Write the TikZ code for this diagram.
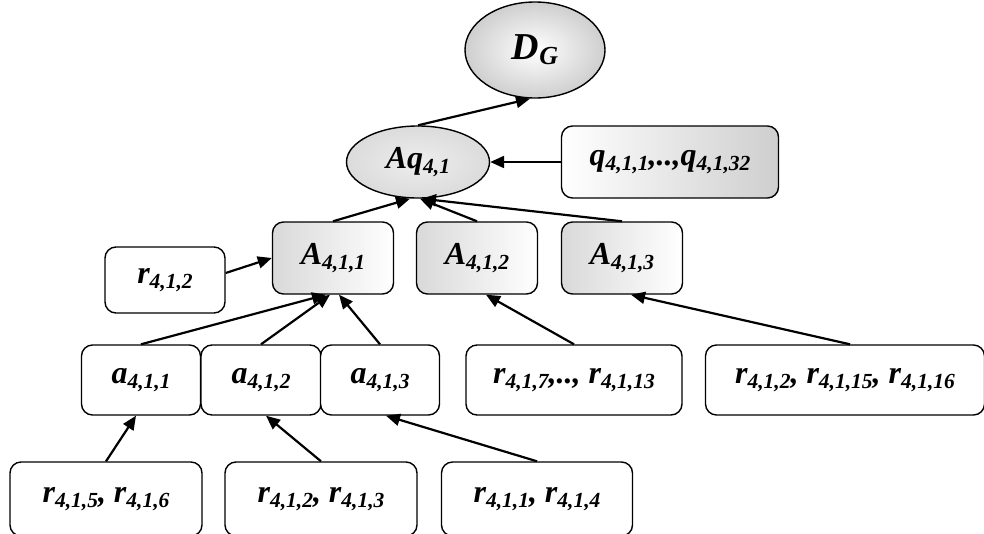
\documentclass[tikz,border=0pt]{standalone}
\usepackage{fontspec}
\setmainfont{Liberation Serif}
\usetikzlibrary{shapes.geometric,arrows.meta}
\newcommand\sbs[1]{\raisebox{-0.3ex}{\fontsize{21.5}{22}\selectfont #1}}
\tikzset{
  lbl/.style={font=\fontsize{32}{34}\selectfont\bfseries\itshape, inner sep=0pt},
  rbox/.style={lbl, draw, line width=1.4pt, rounded corners=11pt, fill=white},
  gbox/.style={rbox, left color=gray!30, right color=white},
  qbox/.style={rbox, left color=white, right color=gray!38},
  ell/.style={lbl, ellipse, draw, line width=1.4pt},
  arr/.style={line width=2.2pt, -{Triangle[length=14pt,width=12pt]}},
}
\begin{document}
\begin{tikzpicture}[x=1pt,y=-1pt]
\useasboundingbox (0,0) rectangle (984,533);
% top
\node[ell, minimum width=140, minimum height=96, inner color=white, outer color=gray!38, font=\fontsize{38}{40}\selectfont\bfseries\itshape] (DG) at (535,50) {D\raisebox{-0.3ex}{\fontsize{26}{26}\selectfont G}};
\node[ell, minimum width=143, minimum height=72, inner color=gray!14, outer color=gray!28] (Aq) at (418,162) {Aq\sbs{4,1}};
\node[qbox, minimum width=217, minimum height=72] (q) at (670,162) {q\sbs{4,1,1},..,q\sbs{4,1,32}};
% A row
\node[gbox, minimum width=121, minimum height=72] (A1) at (333,258) {A\sbs{4,1,1}};
\node[gbox, minimum width=121, minimum height=72] (A2) at (477,258) {A\sbs{4,1,2}};
\node[gbox, minimum width=121, minimum height=72] (A3) at (622,258) {A\sbs{4,1,3}};
\node[rbox, minimum width=120, minimum height=66] (rl) at (165,280) {r\sbs{4,1,2}};
% a row
\node[rbox, minimum width=119, minimum height=70] (a1) at (141,380) {a\sbs{4,1,1}};
\node[rbox, minimum width=120, minimum height=70] (a2) at (261,380) {a\sbs{4,1,2}};
\node[rbox, minimum width=119, minimum height=70] (a3) at (380,380) {a\sbs{4,1,3}};
\node[rbox, minimum width=216, minimum height=70] (r7) at (574,380) {r\sbs{4,1,7},.., r\sbs{4,1,13}};
\node[rbox, minimum width=279, minimum height=70] (r15) at (845,380) {r\sbs{4,1,2}, r\sbs{4,1,15}, r\sbs{4,1,16}};
% bottom row
\node[rbox, minimum width=192, minimum height=74] (b1) at (106,499) {r\sbs{4,1,5}, r\sbs{4,1,6}};
\node[rbox, minimum width=192, minimum height=74] (b2) at (321,499) {r\sbs{4,1,2}, r\sbs{4,1,3}};
\node[rbox, minimum width=191, minimum height=74] (b3) at (537,499) {r\sbs{4,1,1}, r\sbs{4,1,4}};
% arrows
\draw[arr] (Aq.north) -- ([xshift=-5]DG.south);
\draw[arr] (q.west) -- (Aq.east);
\draw[arr] (A1.north) -- ([xshift=-8]Aq.south);
\draw[arr] (A2.north) -- ([xshift=2]Aq.south);
\draw[arr] (A3.north) -- ([xshift=4]Aq.south);
\draw[arr] ([yshift=7]rl.east) -- (A1.west);
\draw[arr] (a1.north) -- ([xshift=-7]A1.south);
\draw[arr] (a2.north) -- ([xshift=-3]A1.south);
\draw[arr] (a3.north) -- ([xshift=6]A1.south);
\draw[arr] (r7.north) -- ([xshift=9]A2.south);
\draw[arr] ([xshift=5]r15.north) -- ([xshift=9]A3.south);
\draw[arr] (b1.north) -- ([xshift=-5]a1.south);
\draw[arr] (b2.north) -- ([xshift=5]a2.south);
\draw[arr] (b3.north) -- ([xshift=6]a3.south);
\end{tikzpicture}
\end{document}
